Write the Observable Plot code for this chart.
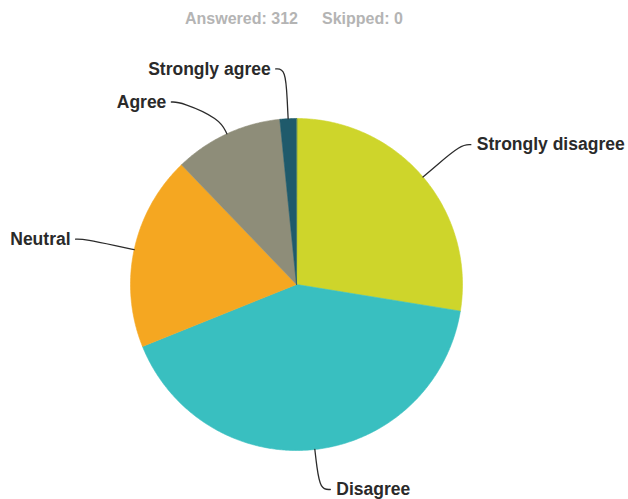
<!DOCTYPE html>
<html>
<head>
<meta charset="utf-8">
<script src="https://cdn.jsdelivr.net/npm/d3@7"></script>
<script src="https://cdn.jsdelivr.net/npm/@observablehq/plot@0.6"></script>
<style>
  html, body { margin: 0; padding: 0; background: #fff; }
  #wrap { width: 628px; height: 499px; overflow: hidden; }
  #title { position: relative; height: 36px; font-family: "Liberation Sans", Arial, sans-serif; font-weight: bold; font-size: 16px; color: #b4b4b4; }
  #title span { position: absolute; top: 10px; white-space: nowrap; }
  svg { display: block; }
</style>
</head>
<body>
<div id="wrap">
  <div id="title"><span id="ans"></span><span id="skp"></span></div>
  <div id="chart"></div>
</div>
<script>
// ---- data ----
const categories = ["Strongly disagree", "Disagree", "Neutral", "Agree", "Strongly agree"];
const counts = [86, 129, 59, 33, 5];
const colors = ["#ced52b", "#39bfc0", "#f5a721", "#8e8d79", "#1f5a6b"];
const answered = 312;
const skipped = 0;

document.getElementById("ans").textContent = `Answered: ${answered}`;
document.getElementById("ans").style.left = "185px";
document.getElementById("skp").textContent = `Skipped: ${skipped}`;
document.getElementById("skp").style.left = "322px";

// ---- layout of the pie in unit coordinates ----
const arcs = d3.pie().sort(null).value(d => d)(counts);

const slices = arcs.map((a, i) => {
  const pts = [{x: 0, y: 0}];
  const n = Math.max(2, Math.ceil((a.endAngle - a.startAngle) / (Math.PI / 360)));
  for (let k = 0; k <= n; k++) {
    const t = a.startAngle + (a.endAngle - a.startAngle) * k / n;
    pts.push({x: Math.sin(t), y: Math.cos(t)});
  }
  return {label: categories[i], color: colors[i], pts};
});

// label placement (Highcharts-like)
const R = 1.3, gap = 0.199, bottom = -1.235, lead = 0.06;
const labs = arcs.map((a, i) => {
  const m = (a.startAngle + a.endAngle) / 2;
  const side = Math.sin(m) >= 0 ? 1 : -1;
  return {label: categories[i], m, side, lx: R * Math.sin(m), ly: Math.max(bottom, R * Math.cos(m))};
});
for (const s of [1, -1]) {
  const group = labs.filter(d => d.side === s).sort((a, b) => b.ly - a.ly);
  for (let i = 1; i < group.length; i++) {
    if (group[i].ly > group[i - 1].ly - gap) {
      group[i].ly = group[i - 1].ly - gap;
      group[i].lx = s * Math.sqrt(Math.max(0, R * R - group[i].ly * group[i].ly));
    }
  }
}
labs.forEach(d => {
  d.ex = d.lx + d.side * lead;
  d.pts = [
    {x: Math.sin(d.m), y: Math.cos(d.m)},
    {x: 1.1 * Math.sin(d.m), y: 1.1 * Math.cos(d.m)},
    {x: d.lx, y: d.ly},
    {x: d.ex, y: d.ly}
  ];
});

const marks = [];
slices.forEach(s => {
  marks.push(Plot.line(s.pts, {x: "x", y: "y", fill: s.color, stroke: s.color, strokeWidth: 0.6, curve: "linear-closed"}));
});
labs.forEach(d => {
  marks.push(Plot.line(d.pts, {x: "x", y: "y", stroke: "#2b2b2b", strokeWidth: 1.3, curve: "basis"}));
});
const textStyle = {x: "ex", y: "ly", text: "label", fontWeight: "bold", fontSize: 17.5, fill: "#2a2a2a"};
marks.push(Plot.text(labs.filter(d => d.side > 0), {...textStyle, textAnchor: "start", dx: 6}));
marks.push(Plot.text(labs.filter(d => d.side < 0), {...textStyle, textAnchor: "end", dx: -5}));

const chart = Plot.plot({
  width: 628,
  height: 463,
  margin: 0,
  style: {fontFamily: "'Liberation Sans', Arial, sans-serif", background: "#fff", overflow: "visible"},
  x: {domain: [-1, 1], range: [130, 462], axis: null},
  y: {domain: [-1, 1], range: [414, 82], axis: null},
  marks
});
document.getElementById("chart").appendChild(chart);
</script>
</body>
</html>
